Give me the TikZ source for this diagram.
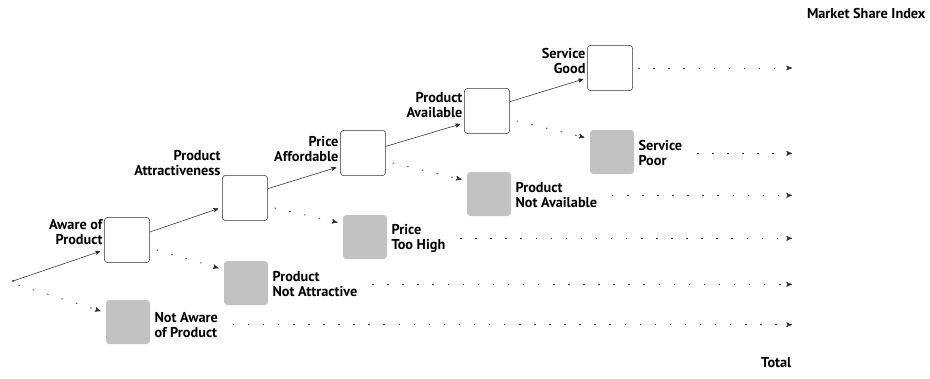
\documentclass[tikz,border=0pt]{standalone}
\usepackage{fontspec}
\setmainfont{PT Sans}
\usetikzlibrary{arrows}

\begin{document}
\begin{tikzpicture}[>=stealth',x=0.75pt,y=-0.75pt,
      stage/.style={draw=black!80,thin,rounded corners=2.5pt,minimum width=34pt,
        minimum height=34pt,fill=white},
      lost/.style={fill=black!24,rounded corners=2.5pt,minimum width=33pt,
        minimum height=33pt},
      lbl/.style={font=\fontsize{10.7}{11.4}\selectfont\bfseries,inner sep=1pt},
      flow/.style={->,thin,black!85,shorten >=3pt},
      drop/.style={->,semithick,black!80,dash pattern=on 1.1pt off 10.2pt,shorten >=4pt}]
    \useasboundingbox (0,0) rectangle (930,378);
    \coordinate (st) at (13,281);
    \coordinate (idx) at (792,0);
    \node[stage] (aw) at (127,240) {};
    \node[stage] (at) at (245,198) {};
    \node[stage] (pa) at (363,153) {};
    \node[stage] (av) at (487,111) {};
    \node[stage] (sg) at (610,68) {};
    \node[lost] (naw) at (128,322) {};
    \node[lost] (nat) at (246,283) {};
    \node[lost] (th) at (365,237) {};
    \node[lost] (nav) at (489,194) {};
    \node[lost] (sp) at (612,152) {};
    % stage labels
    \node[lbl,align=right,anchor=east] (awl) at ([yshift=6pt]aw.west) {Aware of\\Product};
    \node[lbl,align=right,anchor=south east] (atl) at ([yshift=-2pt]at.north west)
      {Product\\Attractiveness};
    \node[lbl,align=right,anchor=east] (pal) at ([yshift=3pt]pa.west) {Price\\Affordable};
    \node[lbl,align=right,anchor=east] (avl) at ([yshift=4.5pt]av.west) {Product\\Available};
    \node[lbl,align=right,anchor=east] (sgl) at ([yshift=5pt]sg.west) {Service\\Good};
    % losses
    \node[lbl,align=left,anchor=west] (nawl) at ([xshift=2pt,yshift=-2pt]naw.east)
      {Not Aware\\of Product};
    \node[lbl,align=left,anchor=west] (natl) at ([xshift=2pt,yshift=-1pt]nat.east)
      {Product\\Not Attractive};
    \node[lbl,align=left,anchor=west] (thl) at ([xshift=2pt,yshift=-1pt]th.east)
      {Price\\Too High};
    \node[lbl,align=left,anchor=west] (navl) at ([xshift=2pt,yshift=-1pt]nav.east)
      {Product\\Not Available};
    \node[lbl,align=left,anchor=west] (spl) at ([xshift=2pt,yshift=-1pt]sp.east)
      {Service\\Poor};
    \node[lbl,anchor=east] (msi) at (927,14) {Market Share Index};
    \node[lbl,anchor=east] (tot) at (793,363) {Total};
    \fill[black!70] (st) circle (0.8pt);
    \path (st) edge[flow] ([yshift=-7.5pt]aw.west)
      ([yshift=6pt]aw.east) edge[flow] ([yshift=-7pt]at.west)
      ([yshift=7pt]at.east) edge[flow] ([yshift=-10pt]pa.west)
      ([yshift=5pt]pa.east) edge[flow] ([yshift=-9pt]av.west)
      ([yshift=7pt]av.east) edge[flow] ([yshift=-7.5pt]sg.west);
    \path ([xshift=4pt,yshift=-3pt]st) edge[drop] ([yshift=7pt]naw.west)
      ([xshift=5pt,yshift=-7.5pt]aw.east) edge[drop] ([yshift=10pt]nat.west)
      ([xshift=5pt,yshift=-7.5pt]at.east) edge[drop] ([yshift=10pt]th.west)
      ([xshift=5pt,yshift=-7.5pt]pa.east) edge[drop] ([yshift=10pt]nav.west)
      ([xshift=5pt,yshift=-7.5pt]av.east) edge[drop] ([yshift=10pt]sp.west);
    % to the index
    \path ([xshift=4pt]sg.east) edge[drop,shorten >=0pt] (sg.east -| idx)
      ([xshift=10pt]spl.east) edge[drop,shorten >=0pt] (spl.east -| idx)
      ([xshift=10pt]navl.east) edge[drop,shorten >=0pt] (navl.east -| idx)
      ([xshift=10pt]thl.east) edge[drop,shorten >=0pt] (thl.east -| idx)
      ([xshift=10pt]natl.east) edge[drop,shorten >=0pt] (natl.east -| idx)
      ([xshift=10pt]nawl.east) edge[drop,shorten >=0pt] (nawl.east -| idx);
  \end{tikzpicture}
\end{document}
